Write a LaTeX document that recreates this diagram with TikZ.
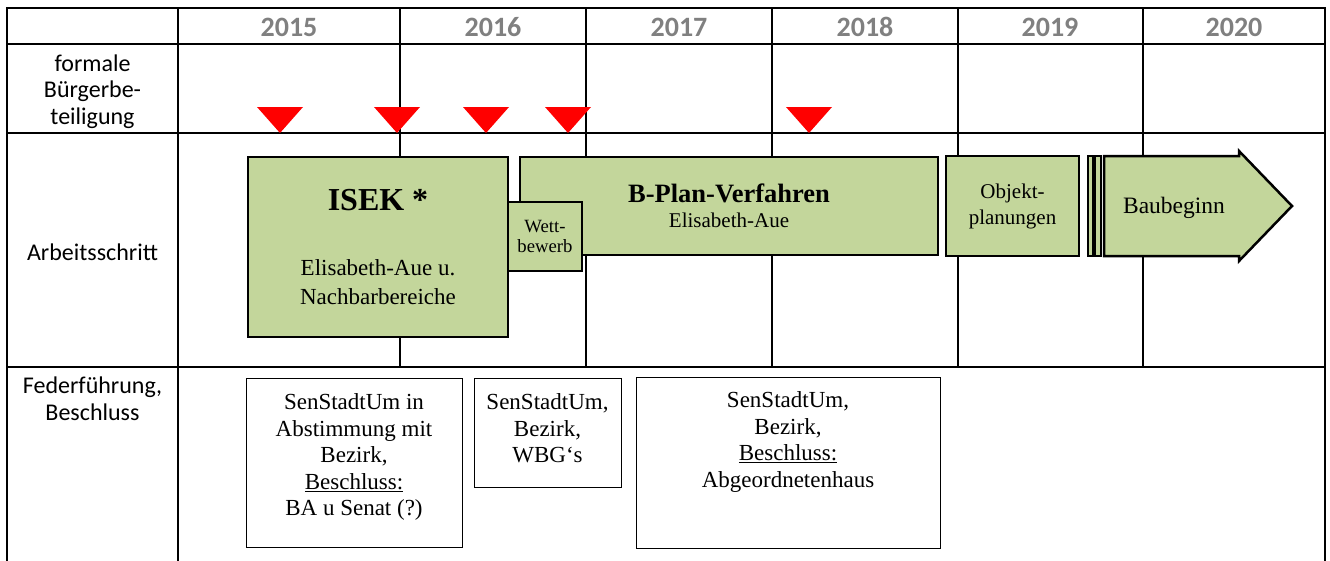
\documentclass[tikz,border=0pt]{standalone}
\usepackage{fontspec}
\usepackage{xcolor}
\usepackage{tikz}
\setmainfont{Liberation Serif}
\newfontfamily\calibri{Carlito}
\definecolor{mygreen}{RGB}{195,214,155}
\definecolor{myred}{RGB}{255,0,0}
\definecolor{mygray}{RGB}{128,128,128}

\tikzset{
    tablegrid/.style={line width=2.5pt, line cap=rect},
    innergrid/.style={line width=1.7pt},
    year/.style={anchor=base, text=mygray, font=\calibri\bfseries\fontsize{28}{32}\selectfont},
    rowlabel/.style={align=center, inner sep=0pt, font=\calibri\fontsize{24}{26.5}\selectfont},
    phasebox/.style={draw, line width=2.5pt, fill=mygreen, inner sep=0pt, align=center},
    leadbox/.style={draw, line width=1pt, inner sep=0pt},
    leadtext/.style={anchor=north, align=center, inner sep=0pt, font=\fontsize{23}{26.5}\selectfont}
}

\begin{document}
\begin{tikzpicture}[x=1pt, y=-1pt]
    \useasboundingbox (0,0) rectangle (1330,560);

    \foreach \yy in {8,44,133,367}
        \draw[tablegrid] (7,\yy) -- (1325,\yy);
    \foreach \xx in {7,178,1325}
        \draw[tablegrid] (\xx,8) -- (\xx,565);
    \foreach \xx in {400,586,772,958,1143}
        \draw[innergrid] (\xx,8) -- (\xx,367);

    \foreach \yr/\xc in {2015/289,2016/493,2017/679,2018/865,2019/1050,2020/1234}
        \node[year] (y\yr) at (\xc,36) {\yr};

    \node[rowlabel] (buerger) at (92.5,91.5) {formale\\Bürgerbe-\\teiligung};
    \node[rowlabel, anchor=base] (arbeit) at (92.5,260) {Arbeitsschritt};
    \node[rowlabel] (feder) at (92.5,398.5) {Federführung,\\Beschluss};

    \foreach \xc in {280,397,486,568,809}
        \fill[myred] (\xc-23,107) -- (\xc+23,107) -- (\xc,133) -- cycle;

    \node[phasebox, minimum width=260pt, minimum height=180pt, font=\fontsize{23}{29}\selectfont] (isek) at (378,247)
        {{\fontsize{32}{36}\selectfont\bfseries ISEK *}\\[36pt]Elisabeth-Aue u.\\Nachbarbereiche};
    \node[phasebox, minimum width=418pt, minimum height=98pt, font=\fontsize{21}{25}\selectfont] (bplan) at (729,206)
        {{\fontsize{26.5}{30}\selectfont\bfseries B-Plan-Verfahren}\\Elisabeth-Aue};
    \node[phasebox, minimum width=74pt, minimum height=69pt, font=\fontsize{18.7}{20}\selectfont] (wett) at (545,236.5)
        {Wett-\\bewerb};
    \node[phasebox, minimum width=133pt, minimum height=100pt, font=\fontsize{21}{26}\selectfont] (objekt) at (1012.5,206)
        {Objekt-\\planungen};
    \node[phasebox, line width=1.3pt, minimum width=5pt, minimum height=100pt] (bar1) at (1090.5,206) {};
    \node[phasebox, line width=1.3pt, minimum width=6pt, minimum height=100pt] (bar2) at (1098,206) {};

    \draw[line width=2.5pt, fill=mygreen] (1104,156) -- (1239,156) -- (1239,151) -- (1292,206)
        -- (1239,261) -- (1239,256) -- (1104,256) -- cycle;
    \node[font=\fontsize{23.5}{26}\selectfont] (bau) at (1174,207.5) {Baubeginn};

    \node[leadbox, minimum width=216pt, minimum height=169pt] (fb1) at (354,462.5) {};
    \node[leadtext] (fb1text) at ([yshift=-16pt]fb1.north)
        {SenStadtUm in\\Abstimmung mit\\Bezirk,\\\underline{Beschluss:}\\BA u Senat (?)};
    \node[leadbox, minimum width=147pt, minimum height=109pt] (fb2) at (547.5,432.5) {};
    \node[leadtext] (fb2text) at ([yshift=-16pt]fb2.north)
        {SenStadtUm,\\Bezirk,\\WBG‘s};
    \node[leadbox, minimum width=304pt, minimum height=171pt] (fb3) at (788,462.5) {};
    \node[leadtext] (fb3text) at ([yshift=-15pt]fb3.north)
        {SenStadtUm,\\Bezirk,\\\underline{Beschluss:}\\Abgeordnetenhaus};
\end{tikzpicture}
\end{document}
